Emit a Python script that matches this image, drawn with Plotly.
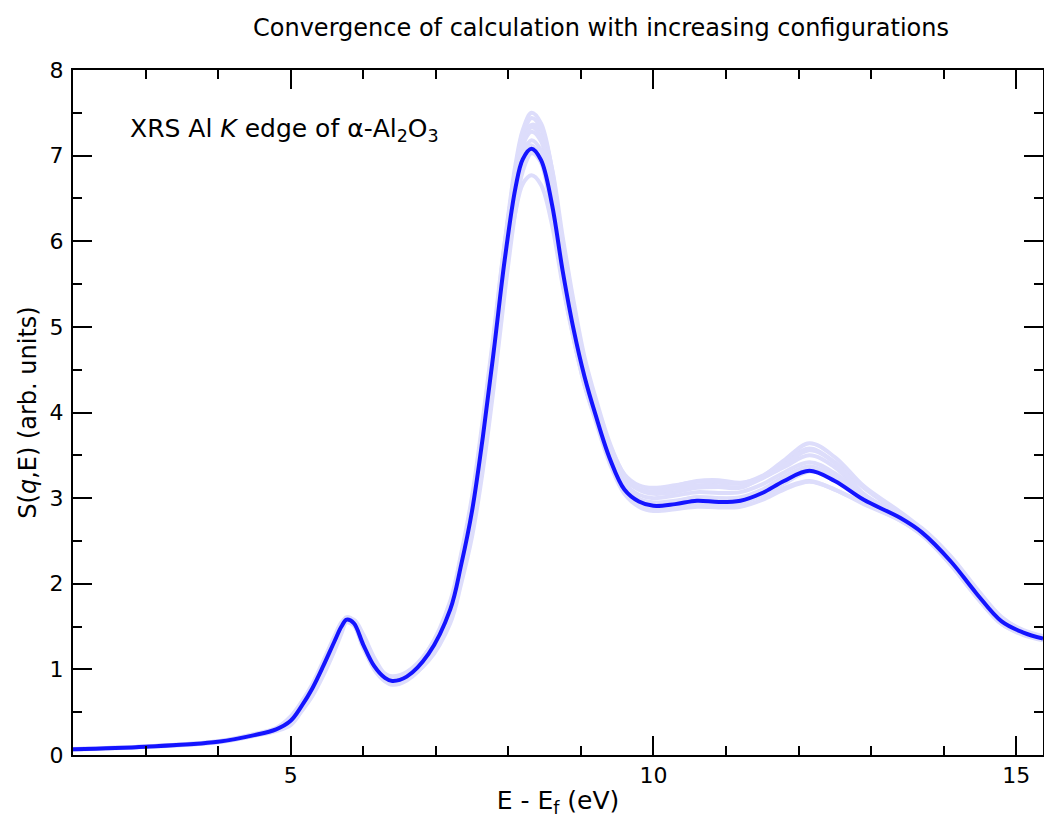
import plotly.graph_objects as go

# Energy grid (eV, E - E_f)
energy = [2.0, 3.0, 4.0, 4.5, 4.8, 5.0, 5.15, 5.3, 5.45, 5.6, 5.7, 5.77, 5.87, 6.0, 6.15, 6.3, 6.4, 6.6,
          6.9, 7.2, 7.35, 7.5, 7.65, 7.8, 7.95, 8.1, 8.2, 8.32, 8.45, 8.6, 8.75, 8.9, 9.05, 9.2, 9.4,
          9.6, 9.8, 10.0, 10.3, 10.6, 10.9, 11.2, 11.5, 11.8, 12.15, 12.5, 12.9, 13.4, 13.7, 14.1,
          14.45, 14.8, 15.1, 15.37]

# Converged spectrum
s_converged = [0.067, 0.097, 0.155, 0.232, 0.30, 0.40, 0.57, 0.78, 1.04, 1.32, 1.50, 1.58, 1.54, 1.29,
               1.04, 0.90, 0.865, 0.915, 1.18, 1.70, 2.22, 2.85, 3.72, 4.72, 5.78, 6.63, 6.96, 7.08,
               6.95, 6.44, 5.65, 4.97, 4.42, 3.98, 3.46, 3.10, 2.96, 2.91, 2.93, 2.97, 2.955, 2.97,
               3.06, 3.20, 3.32, 3.20, 2.98, 2.77, 2.60, 2.26, 1.89, 1.56, 1.43, 1.36]

# Individual configuration spectra
s_cfg1 = [0.07, 0.10, 0.16, 0.24, 0.31, 0.43, 0.59, 0.79, 1.06, 1.35, 1.53, 1.61, 1.57, 1.33, 1.09, 0.95,
          0.92, 0.97, 1.23, 1.76, 2.30, 2.95, 3.85, 4.88, 5.98, 6.90, 7.30, 7.50, 7.38, 6.85, 5.95, 5.18,
          4.56, 4.12, 3.62, 3.28, 3.15, 3.12, 3.15, 3.19, 3.18, 3.17, 3.26, 3.42, 3.58, 3.42, 3.12, 2.82,
          2.63, 2.28, 1.90, 1.57, 1.44, 1.37]
s_cfg2 = [0.065, 0.094, 0.15, 0.225, 0.29, 0.40, 0.55, 0.75, 1.00, 1.28, 1.46, 1.55, 1.51, 1.27, 1.00,
          0.86, 0.82, 0.87, 1.12, 1.64, 2.15, 2.78, 3.63, 4.58, 5.56, 6.35, 6.67, 6.77, 6.66, 6.20, 5.48,
          4.86, 4.32, 3.91, 3.40, 3.05, 2.90, 2.85, 2.87, 2.90, 2.89, 2.90, 2.98, 3.10, 3.19, 3.10, 2.93,
          2.74, 2.57, 2.22, 1.85, 1.53, 1.41, 1.35]
s_cfg3 = [0.068, 0.098, 0.157, 0.24, 0.305, 0.41, 0.56, 0.76, 1.01, 1.29, 1.48, 1.57, 1.55, 1.33, 1.08,
          0.93, 0.89, 0.94, 1.18, 1.67, 2.16, 2.78, 3.62, 4.62, 5.70, 6.65, 7.10, 7.36, 7.30, 6.86, 6.05,
          5.30, 4.65, 4.18, 3.64, 3.27, 3.10, 3.05, 3.07, 3.12, 3.13, 3.12, 3.25, 3.44, 3.64, 3.48, 3.14,
          2.84, 2.64, 2.29, 1.92, 1.59, 1.45, 1.38]
s_cfg4 = [0.066, 0.096, 0.154, 0.233, 0.30, 0.42, 0.58, 0.79, 1.05, 1.33, 1.51, 1.59, 1.55, 1.30, 1.05,
          0.92, 0.89, 0.94, 1.20, 1.72, 2.25, 2.89, 3.78, 4.80, 5.88, 6.77, 7.13, 7.28, 7.17, 6.62, 5.80,
          5.08, 4.50, 4.08, 3.58, 3.23, 3.10, 3.08, 3.14, 3.20, 3.21, 3.18, 3.24, 3.36, 3.50, 3.36, 3.04,
          2.79, 2.61, 2.26, 1.89, 1.56, 1.43, 1.36]
s_cfg5 = [0.067, 0.097, 0.155, 0.236, 0.30, 0.42, 0.58, 0.78, 1.04, 1.32, 1.50, 1.58, 1.55, 1.31, 1.06,
          0.92, 0.88, 0.93, 1.19, 1.71, 2.23, 2.86, 3.74, 4.75, 5.83, 6.70, 7.04, 7.18, 7.06, 6.55, 5.76,
          5.05, 4.46, 4.04, 3.53, 3.17, 3.04, 3.00, 3.03, 3.07, 3.06, 3.07, 3.16, 3.30, 3.42, 3.29, 3.02,
          2.77, 2.59, 2.25, 1.88, 1.55, 1.42, 1.35]
s_cfg6 = [0.067, 0.097, 0.155, 0.235, 0.30, 0.41, 0.57, 0.77, 1.03, 1.31, 1.49, 1.57, 1.53, 1.28, 1.03,
          0.89, 0.85, 0.90, 1.16, 1.68, 2.22, 2.88, 3.79, 4.84, 5.94, 6.85, 7.24, 7.44, 7.32, 6.74, 5.84,
          5.05, 4.44, 3.99, 3.46, 3.09, 2.95, 2.92, 2.96, 3.01, 3.00, 2.98, 3.03, 3.12, 3.20, 3.10, 2.94,
          2.74, 2.57, 2.23, 1.86, 1.53, 1.40, 1.34]
s_cfg7 = [0.068, 0.098, 0.156, 0.236, 0.305, 0.43, 0.59, 0.80, 1.06, 1.34, 1.52, 1.60, 1.56, 1.30, 1.04,
          0.90, 0.87, 0.93, 1.21, 1.74, 2.26, 2.88, 3.72, 4.70, 5.74, 6.56, 6.90, 7.03, 6.92, 6.45, 5.72,
          5.08, 4.52, 4.10, 3.60, 3.25, 3.11, 3.08, 3.11, 3.15, 3.14, 3.13, 3.23, 3.38, 3.56, 3.41, 3.05,
          2.79, 2.62, 2.27, 1.90, 1.57, 1.44, 1.37]
s_cfg8 = [0.066, 0.096, 0.154, 0.234, 0.30, 0.42, 0.58, 0.78, 1.04, 1.33, 1.51, 1.59, 1.54, 1.29, 1.04,
          0.91, 0.87, 0.92, 1.19, 1.72, 2.25, 2.90, 3.80, 4.83, 5.90, 6.78, 7.15, 7.33, 7.22, 6.68, 5.83,
          5.10, 4.48, 4.02, 3.47, 3.08, 2.93, 2.88, 2.90, 2.94, 2.93, 2.94, 3.05, 3.22, 3.37, 3.25, 3.02,
          2.81, 2.64, 2.30, 1.93, 1.60, 1.46, 1.39]
s_cfg9 = [0.065, 0.095, 0.15, 0.225, 0.28, 0.35, 0.51, 0.69, 0.93, 1.21, 1.42, 1.56, 1.58, 1.41, 1.14,
          0.94, 0.875, 0.895, 1.10, 1.54, 2.00, 2.55, 3.33, 4.30, 5.39, 6.36, 6.82, 7.04, 7.07, 6.71, 5.95,
          5.21, 4.60, 4.14, 3.60, 3.17, 2.99, 2.92, 2.92, 2.96, 2.95, 2.95, 3.03, 3.17, 3.31, 3.23, 3.02,
          2.80, 2.65, 2.32, 1.95, 1.61, 1.45, 1.37]
s_cfg10 = [0.07, 0.10, 0.16, 0.245, 0.315, 0.45, 0.62, 0.83, 1.10, 1.38, 1.55, 1.60, 1.53, 1.25, 1.02,
           0.90, 0.88, 0.94, 1.23, 1.80, 2.35, 3.02, 3.93, 4.94, 5.98, 6.78, 7.05, 7.12, 6.93, 6.34, 5.52,
           4.87, 4.33, 3.94, 3.45, 3.11, 2.99, 2.95, 2.97, 3.01, 3.00, 3.01, 3.10, 3.25, 3.37, 3.22, 2.98,
           2.76, 2.58, 2.22, 1.85, 1.53, 1.41, 1.35]

configs = [s_cfg1, s_cfg2, s_cfg3, s_cfg4, s_cfg5, s_cfg6, s_cfg7, s_cfg8, s_cfg9, s_cfg10]

FONT = "DejaVu Sans, Liberation Sans, Arial, sans-serif"
LIGHT = "rgb(221,221,251)"
BLUE = "rgb(20,20,255)"

W, H = 1044, 826

fig = go.Figure()
for cfg in configs:
    fig.add_trace(go.Scatter(x=energy, y=cfg, mode="lines",
                             line=dict(color=LIGHT, width=4, shape="spline", smoothing=1.0),
                             hoverinfo="skip", showlegend=False))
fig.add_trace(go.Scatter(x=energy, y=s_converged, mode="lines",
                         line=dict(color=BLUE, width=4, shape="spline", smoothing=1.0),
                         showlegend=False))

axis_common = dict(
    showline=True, linecolor="black", linewidth=2, mirror="ticks",
    ticks="inside", ticklen=19, tickwidth=1.5, tickcolor="black",
    showgrid=False, zeroline=False, automargin=False,
    tickfont=dict(family=FONT, size=22, color="black"),
)

fig.update_xaxes(
    range=[2, 15.37], tick0=0, dtick=5,
    minor=dict(ticks="inside", ticklen=9, tickwidth=1.5, tickcolor="black", dtick=1, tick0=0, showgrid=False),
    title=dict(text="E - E<sub>f</sub> (eV)", font=dict(family=FONT, size=25, color="black"), standoff=4),
    **axis_common,
)
fig.update_yaxes(
    range=[0, 8], tick0=0, dtick=1, ticklabelstandoff=3,
    minor=dict(ticks="inside", ticklen=9, tickwidth=1.5, tickcolor="black", dtick=0.5, tick0=0, showgrid=False),
    title=dict(text="S(<i>q</i>,E) (arb. units)", font=dict(family=FONT, size=24, color="black"), standoff=6),
    **axis_common,
)

fig.update_layout(
    width=W, height=H,
    margin=dict(l=73, r=1, t=70, b=H - 70 - 685),
    paper_bgcolor="white", plot_bgcolor="white",
    title=dict(text="Convergence of calculation with increasing configurations",
               x=601 / W, xref="container", xanchor="center",
               y=1 - 28 / H, yref="container", yanchor="middle",
               font=dict(family=FONT, size=24, color="black")),
    annotations=[dict(
        text="XRS Al <i>K</i> edge of α-Al<sub>2</sub>O<sub>3</sub>",
        xref="paper", yref="paper", x=(128 - 73) / 970, y=(755 - 130) / 685,
        xanchor="left", yanchor="middle", showarrow=False,
        font=dict(family=FONT, size=25, color="black"))],
)

fig.write_html(
    "out.html",
    config={"displayModeBar": False},
    post_script="document.body.style.margin='0';document.body.style.overflow='hidden';",
)
